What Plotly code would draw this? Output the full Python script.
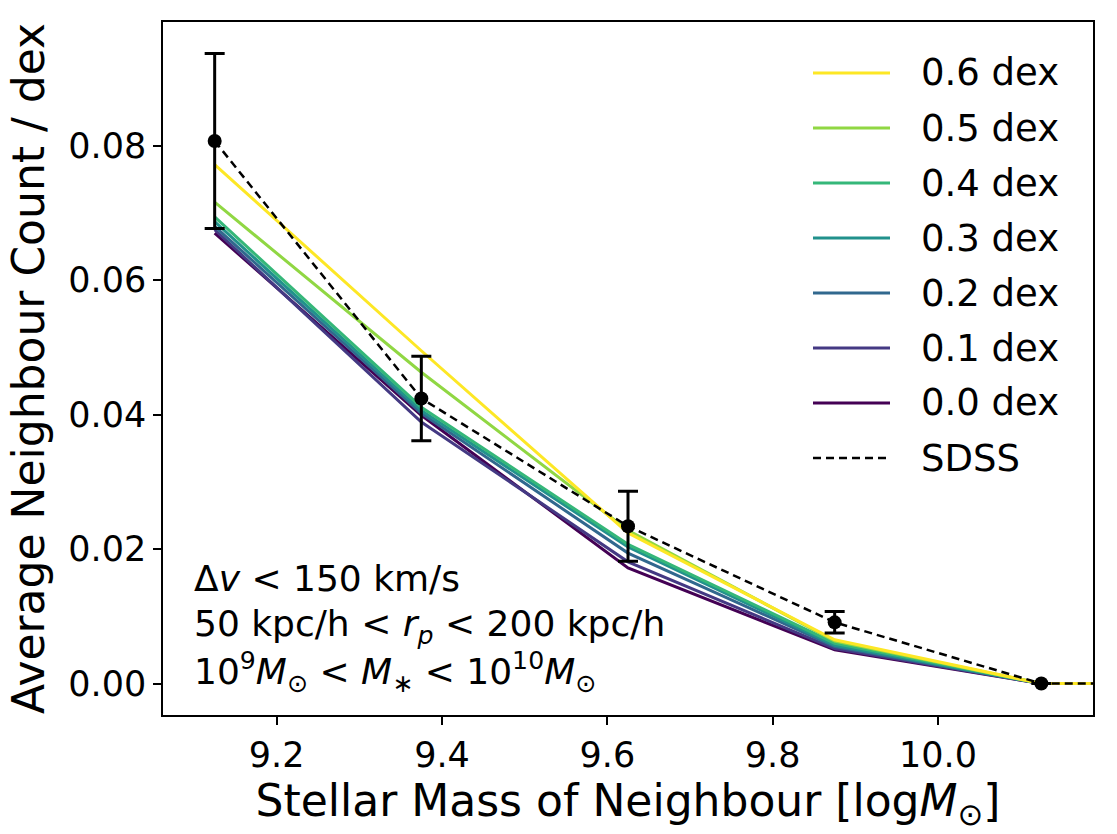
import plotly.graph_objects as go

# ---- data ----
mass_bins = [9.125, 9.375, 9.625, 9.875, 10.125, 10.375]
series_names = ["0.6 dex", "0.5 dex", "0.4 dex", "0.3 dex", "0.2 dex", "0.1 dex", "0.0 dex"]
series_colors = ["#fde725", "#90d743", "#35b779", "#21918c", "#31688e", "#443983", "#440154"]
y_06 = [0.0772, 0.0495, 0.0224, 0.0065, 0.0, 0.0]
y_05 = [0.0716, 0.0463, 0.0228, 0.0063, 0.0, 0.0]
y_04 = [0.0694, 0.0411, 0.0207, 0.0060, 0.0, 0.0]
y_03 = [0.0687, 0.0406, 0.0203, 0.0057, 0.0, 0.0]
y_02 = [0.0680, 0.0402, 0.0194, 0.0055, 0.0, 0.0]
y_01 = [0.0675, 0.0389, 0.0181, 0.0052, 0.0, 0.0]
y_00 = [0.0670, 0.0399, 0.0172, 0.0050, 0.0, 0.0]
series_values = [y_06, y_05, y_04, y_03, y_02, y_01, y_00]
sdss_y = [0.0807, 0.0424, 0.0234, 0.0091, 0.0, 0.0]
sdss_err = [0.0130, 0.0063, 0.0052, 0.0016, None, None]
x_ticks = [9.2, 9.4, 9.6, 9.8, 10.0]
y_ticks = [0.00, 0.02, 0.04, 0.06, 0.08]

FONT = "DejaVu Sans"
fig = go.Figure()

# draw 0.0 first ... 0.6 last
for name, color, vals in reversed(list(zip(series_names, series_colors, series_values))):
    fig.add_trace(go.Scatter(x=mass_bins, y=vals, mode="lines", name=name,
                             line=dict(color=color, width=3), showlegend=False))

fig.add_trace(go.Scatter(x=mass_bins, y=sdss_y, mode="lines+markers", name="SDSS",
                         line=dict(color="black", width=2.5, dash="8px,5px"),
                         marker=dict(color="black", size=14),
                         error_y=dict(type="data", array=sdss_err, visible=True,
                                      color="black", thickness=3, width=10),
                         showlegend=False))

# ---- manual legend (matplotlib style) ----
L, T, B, R = 163, 22, 715, 1093
W, H = R - L, B - T
def px(x):
    return (x - L) / W
def py(y):
    return (B - y) / H

legend_entries = list(zip(series_names, series_colors, ["solid"] * 7)) + [("SDSS", "black", "dash")]
for i, (name, color, dash) in enumerate(legend_entries):
    yc = 73 + 55 * i
    fig.add_shape(type="line", xref="paper", yref="paper",
                  x0=px(813), x1=px(890), y0=py(yc), y1=py(yc),
                  line=dict(color=color, width=3 if dash == "solid" else 2.5,
                            dash="solid" if dash == "solid" else "8px,5px"))
    fig.add_annotation(xref="paper", yref="paper", x=px(919), y=py(yc),
                       text=name, showarrow=False, xanchor="left", yanchor="middle",
                       font=dict(family=FONT, size=37, color="black"))

# ---- text block ----
texts = ["Δ<i>v</i> < 150 km/s",
         "50 kpc/h < <i>r</i><sub><i>p</i></sub> < 200 kpc/h",
         "10<sup>9</sup><i>M</i><sub>⊙</sub> < <i>M</i><sub>∗</sub> < 10<sup>10</sup><i>M</i><sub>⊙</sub>"]
for t, yc in zip(texts, [578, 626, 672]):
    fig.add_annotation(xref="paper", yref="paper", x=px(192), y=py(yc), text=t,
                       showarrow=False, xanchor="left", yanchor="middle",
                       font=dict(family=FONT, size=36, color="black"))

axis_common = dict(showline=True, linecolor="black", linewidth=1.5, mirror=True,
                   ticks="outside", ticklen=8, tickwidth=1.5, tickcolor="black",
                   showgrid=False, zeroline=False,
                   tickfont=dict(family=FONT, size=35, color="black"))

fig.update_xaxes(range=[9.0625, 10.1875], tickvals=x_ticks,
                 ticktext=[f"{v:.1f}" for v in x_ticks],
                 title=dict(text="Stellar Mass of Neighbour [log<i>M</i><sub>⊙</sub>]",
                            font=dict(family=FONT, size=44, color="black"), standoff=10),
                 **axis_common)
fig.update_yaxes(range=[-0.00468, 0.0984], tickvals=y_ticks,
                 ticktext=[f"{v:.2f}" for v in y_ticks],
                 title=dict(text="Average Neighbour Count / dex",
                            font=dict(family=FONT, size=44, color="black"), standoff=10),
                 **axis_common)

fig.update_layout(width=1117, height=834, plot_bgcolor="white", paper_bgcolor="white",
                  margin=dict(l=L, r=1117 - R, t=T, b=834 - B, autoexpand=False),
                  showlegend=False, font=dict(family=FONT, color="black"))

fig.write_html("out.html")
